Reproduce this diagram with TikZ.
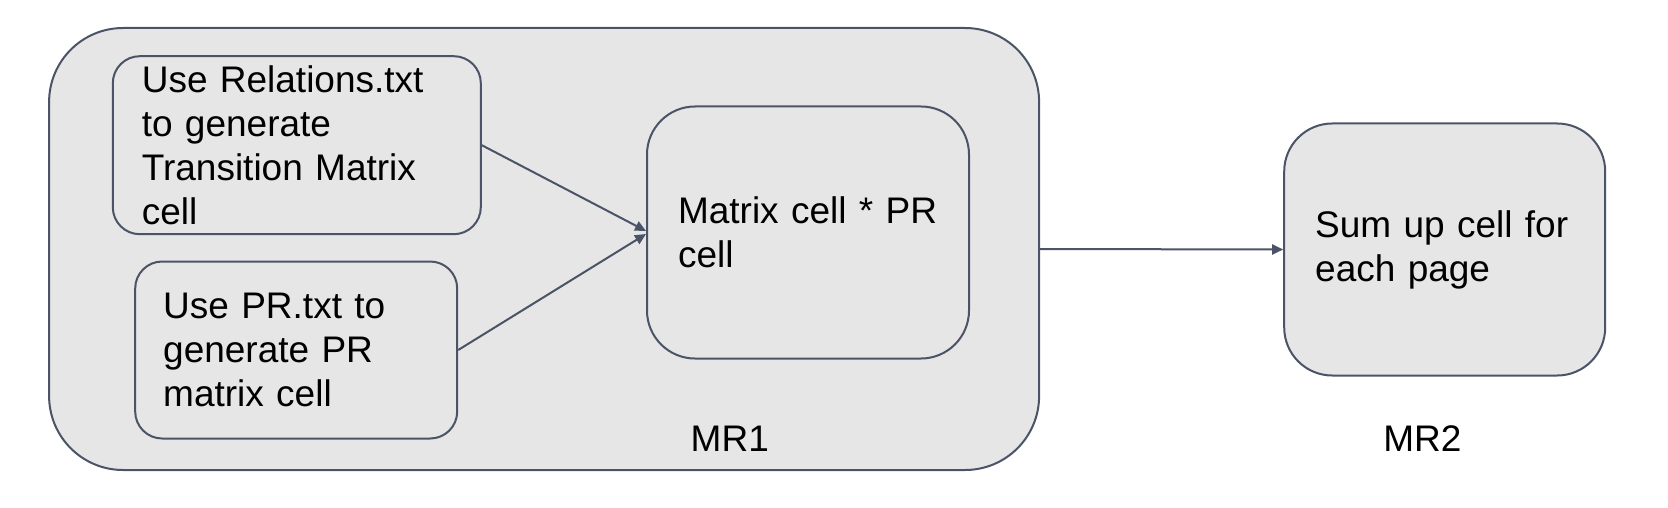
\documentclass[tikz,border=0pt]{standalone}
\usepackage{fontspec}
\setmainfont{Liberation Sans}
\usetikzlibrary{arrows.meta}
\newcommand{\rpetit}{27pt}
\newcommand{\rmoyen}{48pt}
\newcommand{\rgrand}{74pt}
\newcommand{\grandfont}{\fontsize{37pt}{44pt}\selectfont}
\definecolor{bordgris}{HTML}{4A5466}
\definecolor{fondgris}{HTML}{E6E6E6}
\tikzstyle{boite}=[draw=bordgris,fill=fondgris,line width=2pt,align=left,inner ysep=0pt,font=\grandfont]
\tikzstyle{fleche}=[draw=bordgris,line width=2pt,-{Triangle[length=11pt,width=10pt]}]
\tikzstyle{etiquette}=[font=\grandfont,inner sep=0pt]

\begin{document}
\begin{tikzpicture}[x=1pt,y=-1pt]

\useasboundingbox (0,0) rectangle (1668,508);

\node[boite,rounded corners=\rgrand,minimum width=990pt,minimum height=442pt] (mrone) at (544.1,249) {};

\node[boite,rounded corners=\rpetit,minimum height=178pt,inner xsep=29pt,text width=310pt] (rel) at (296.8,145.2) {Use Relations.txt\\to generate\\Transition Matrix\\cell};

\node[boite,rounded corners=\rpetit,minimum height=177pt,inner xsep=28pt,text width=266pt] (pr) at (296.2,350) {Use PR.txt to\\generate PR\\matrix cell};

\node[boite,rounded corners=\rmoyen,minimum height=252pt,inner xsep=31pt,text width=260pt] (mul) at (808,232.5) {Matrix cell * PR\\cell};

\node[boite,rounded corners=\rmoyen,minimum height=252pt,inner xsep=31pt,text width=259pt] (sum) at (1444.7,249.5) {Sum up cell for\\each page};

\node[etiquette] (lblmrone) at (729.8,438.3) {MR1};
\node[etiquette] (lblmrtwo) at (1422.3,438.3) {MR2};

\draw[fleche] (rel.east) -- ([yshift=1.5pt]mul.west);
\draw[fleche] (pr.east) -- ([yshift=-1.5pt]mul.west);
%\draw[fleche] (mul.east) -- (sum.west);
\draw[fleche] (mrone.east) -- (sum.west);

\end{tikzpicture}
\end{document}
